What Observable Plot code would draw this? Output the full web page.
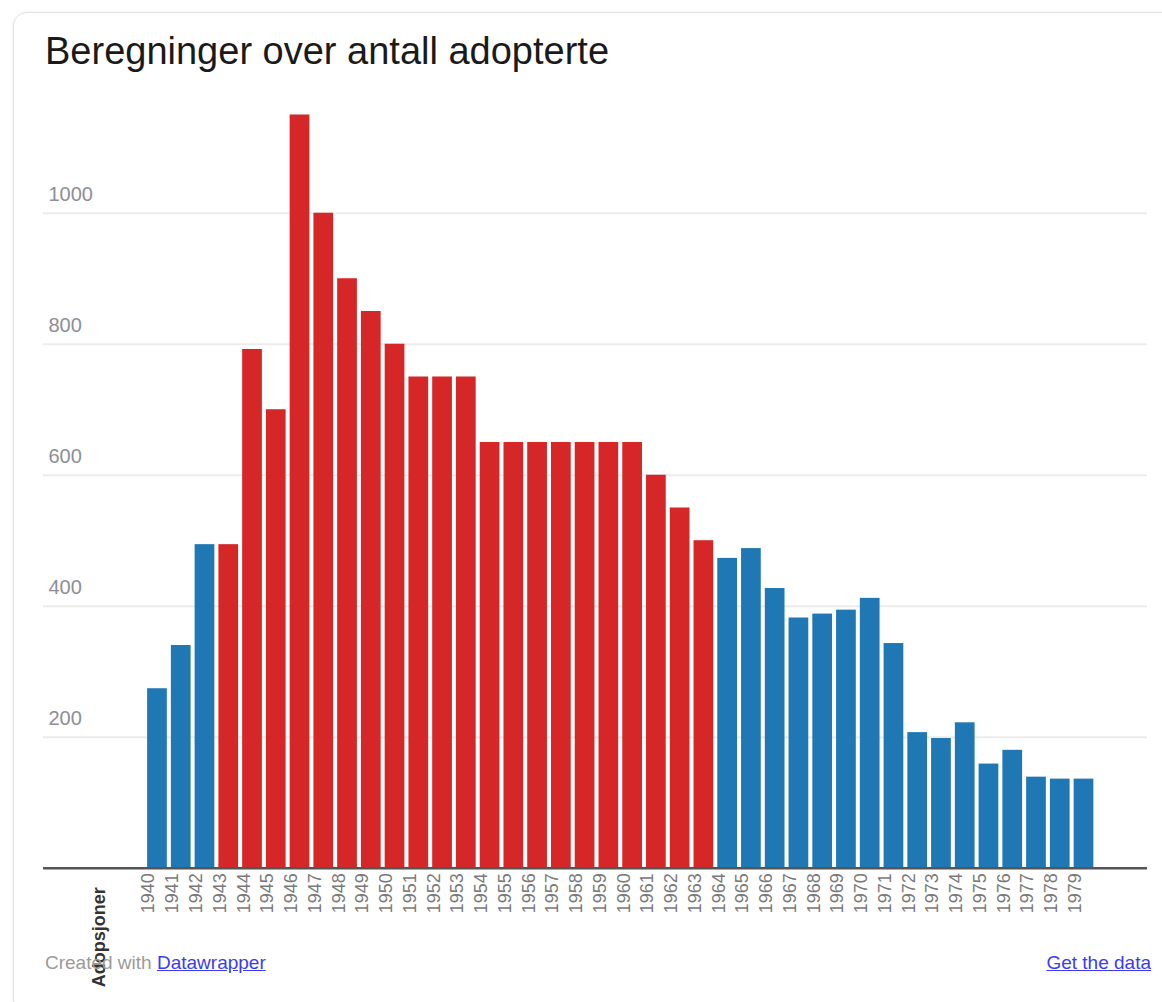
<!DOCTYPE html>
<html>
<head>
<meta charset="utf-8">
<script src="https://cdn.jsdelivr.net/npm/d3@7"></script>
<script src="https://cdn.jsdelivr.net/npm/@observablehq/plot@0.6"></script>
<style>
  html, body { margin: 0; padding: 0; background: #ffffff; }
  body { width: 1162px; height: 1002px; position: relative; overflow: hidden;
         font-family: "Liberation Sans", Arial, Helvetica, sans-serif; }
  .card { position: absolute; left: 13px; top: 12px; width: 1160px; height: 1000px;
          border: 1px solid #e2e2e2; border-radius: 14px; box-shadow: 0 0 4px rgba(0,0,0,0.06);
          background: #fff; }
  #chart { position: absolute; left: 0; top: 0; }
  .title { position: absolute; left: 45px; top: 26px; font-size: 38px; line-height: 50px;
           color: #1a1a1a; white-space: nowrap; }
  .footer { position: absolute; top: 951px; font-size: 19px; line-height: 24px; white-space: nowrap; }
  .footer.left { left: 45px; color: #9a9a9a; }
  .footer.right { right: 11px; }
  .footer a { color: #3b3bf5; text-decoration: underline; }
</style>
</head>
<body>
<div class="card"></div>
<div id="chart"></div>
<div class="title">Beregninger over antall adopterte</div>
<div class="footer left">Created with <a href="#">Datawrapper</a></div>
<div class="footer right"><a href="#">Get the data</a></div>
<script>
const years = [1940,1941,1942,1943,1944,1945,1946,1947,1948,1949,
               1950,1951,1952,1953,1954,1955,1956,1957,1958,1959,
               1960,1961,1962,1963,1964,1965,1966,1967,1968,1969,
               1970,1971,1972,1973,1974,1975,1976,1977,1978,1979];
const adopsjoner = [274,340,494,494,792,700,1150,1000,900,850,
                    800,750,750,750,650,650,650,650,650,650,
                    650,600,550,500,473,488,427,382,388,394,
                    412,343,207,198,222,159,180,139,136,136];
const highlightedYears = [1943,1944,1945,1946,1947,1948,1949,1950,1951,1952,
                          1953,1954,1955,1956,1957,1958,1959,1960,1961,1962,1963];
const yTicks = [200, 400, 600, 800, 1000];
const seriesLabel = "Adopsjoner";

const data = years.map((year, i) => ({
  year,
  value: adopsjoner[i],
  group: highlightedYears.includes(year) ? "highlight" : "other"
}));

const W = 1162, H = 1002;
const chart = Plot.plot({
  width: W,
  height: H,
  marginTop: 114.5,
  marginBottom: H - 867.7,
  marginLeft: 43,
  marginRight: 15,
  style: { background: "transparent", fontFamily: "'Liberation Sans', Arial, sans-serif" },
  x: { type: "band", domain: years, paddingInner: 0.17, paddingOuter: 3.32, align: 0.66, round: false, axis: null },
  y: { domain: [0, 1150], axis: null },
  color: { domain: ["other", "highlight"], range: ["#1f77b4", "#d62728"] },
  marks: [
    Plot.ruleY(yTicks, { stroke: "#ececec", strokeWidth: 2 }),
    Plot.text(yTicks, { y: d => d, text: d => String(d), frameAnchor: "left", textAnchor: "start",
                        dx: 5, dy: -18.5, fill: "#8e8e96", fontSize: 20 }),
    Plot.barY(data, { x: "year", y: "value", fill: "group" }),
    Plot.ruleY([0], { stroke: "#555555", strokeWidth: 2.5 }),
    Plot.text(data, { x: "year", text: d => String(d.year), frameAnchor: "bottom", rotate: -90,
                      textAnchor: "end", dy: 5, dx: -3, fill: "#7a7a7a", fontSize: 18 }),
    Plot.text([seriesLabel], { text: d => d, frameAnchor: "bottom-left", rotate: -90, textAnchor: "end",
                               dx: 61, dy: 19, fill: "#333333", fontSize: 18, fontWeight: "bold" })
  ]
});
document.getElementById("chart").appendChild(chart);
</script>
</body>
</html>
